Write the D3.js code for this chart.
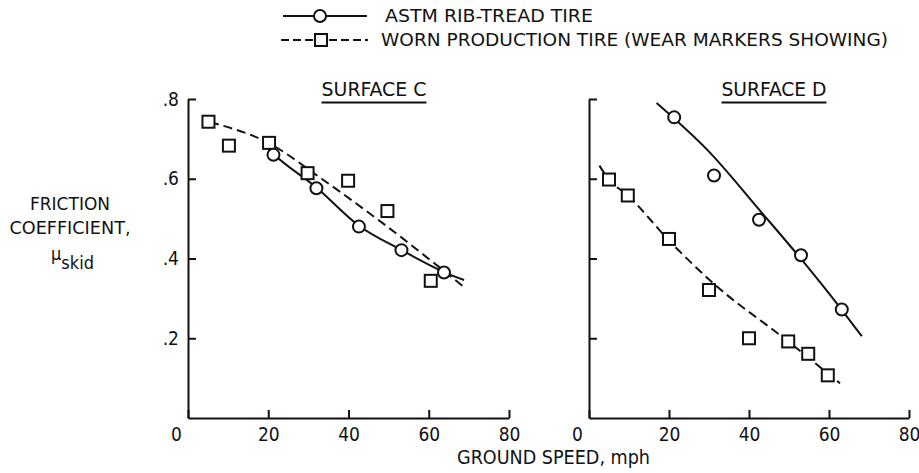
<!DOCTYPE html>
<html><head><meta charset="utf-8">
<script src="https://cdn.jsdelivr.net/npm/d3@7"></script>
<style>
body{margin:0;background:#fff;}
svg text{font-family:"Liberation Sans Narrow","DejaVu Sans Condensed","Liberation Sans",Arial,sans-serif;fill:#111;}
</style></head>
<body><svg id="c" width="919" height="473"></svg>
<script>
// ---- data ----
const speedTicks = [0, 20, 40, 60, 80];
const fricTicks = [0.2, 0.4, 0.6, 0.8];
const fricTickLabels = [".2", ".4", ".6", ".8"];
const seriesNames = ["ASTM RIB-TREAD TIRE", "WORN PRODUCTION TIRE (WEAR MARKERS SHOWING)"];
const panelTitles = ["SURFACE C", "SURFACE D"];
const yLabelLines = ["FRICTION", "COEFFICIENT,"];
const xLabel = "GROUND SPEED, mph";

// Surface C
const astmC_speed = [21.3, 32.0, 42.6, 53.2, 63.8];
const astmC_mu    = [0.660, 0.576, 0.480, 0.421, 0.365];
const wornC_speed = [5.1, 10.2, 20.2, 29.8, 39.9, 49.7, 60.5];
const wornC_mu    = [0.743, 0.683, 0.690, 0.614, 0.595, 0.519, 0.344];
const astmCfit_speed = [19.0, 21.3, 32.0, 42.6, 53.2, 63.8, 68.8];
const astmCfit_mu    = [0.685, 0.662, 0.578, 0.482, 0.421, 0.366, 0.346];
const wornCfit_speed = [5.5, 20.0, 33.3, 48.6, 68.6];
const wornCfit_mu    = [0.742, 0.690, 0.600, 0.488, 0.330];

// Surface D
const astmD_speed = [21.3, 31.25, 42.5, 53.0, 63.2];
const astmD_mu    = [0.754, 0.608, 0.497, 0.408, 0.272];
const wornD_speed = [5.0, 9.7, 20.0, 30.0, 40.0, 49.8, 54.8, 59.7];
const wornD_mu    = [0.598, 0.558, 0.449, 0.321, 0.200, 0.192, 0.161, 0.107];
const astmDfit_speed = [16.9, 30.0, 42.75, 52.75, 62.75, 68.2];
const astmDfit_mu    = [0.790, 0.668, 0.520, 0.402, 0.277, 0.205];
const wornDfit_speed = [2.6, 5.0, 9.7, 20.0, 30.7, 49.8, 62.75];
const wornDfit_mu    = [0.633, 0.598, 0.558, 0.445, 0.341, 0.192, 0.087];

const zip = (a, b) => a.map((v, i) => [v, b[i]]);
const panels = [
  {title: panelTitles[0], x0: 188, x1: 509, yLabels: true, titleX: 374, titleW: 105,
   astm: zip(astmC_speed, astmC_mu), worn: zip(wornC_speed, wornC_mu),
   astmFit: zip(astmCfit_speed, astmCfit_mu), wornFit: zip(wornCfit_speed, wornCfit_mu)},
  {title: panelTitles[1], x0: 589, x1: 909, yLabels: false, titleX: 774, titleW: 105,
   astm: zip(astmD_speed, astmD_mu), worn: zip(wornD_speed, wornD_mu),
   astmFit: zip(astmDfit_speed, astmDfit_mu), wornFit: zip(wornDfit_speed, wornDfit_mu)}
];

const svg = d3.select("#c");
const yTop = 99, yBot = 418;
const y = d3.scaleLinear().domain([0, 0.8]).range([yBot, yTop]);
const ink = "#111";
const dash = "9,5";
const sq = 12, cr = 6;

function drawCircle(g, cx, cy) {
  g.append("circle").attr("cx", cx).attr("cy", cy).attr("r", cr)
    .attr("fill", "#fff").attr("stroke", ink).attr("stroke-width", 2);
}
function drawSquare(g, cx, cy) {
  g.append("rect").attr("x", cx - sq / 2).attr("y", cy - sq / 2).attr("width", sq).attr("height", sq)
    .attr("fill", "#fff").attr("stroke", ink).attr("stroke-width", 2);
}

panels.forEach(p => {
  const x = d3.scaleLinear().domain([0, 80]).range([p.x0, p.x1]);
  const g = svg.append("g");

  // axes
  const xa = g.append("g").attr("transform", `translate(0,${yBot})`)
    .call(d3.axisBottom(x).tickValues(speedTicks).tickSize(-8).tickSizeOuter(0).tickPadding(10));
  const ya = g.append("g").attr("transform", `translate(${p.x0},0)`)
    .call(d3.axisLeft(y).tickValues(fricTicks).tickSize(-8).tickSizeOuter(0).tickPadding(9)
      .tickFormat((d, i) => fricTickLabels[i]));
  [xa, ya].forEach(a => {
    a.selectAll("path.domain").attr("stroke", ink).attr("stroke-width", 2);
    a.selectAll(".tick line").attr("stroke", ink).attr("stroke-width", 2);
    a.selectAll("text").attr("font-size", 19).attr("fill", ink)
      .style("font-family", '"Liberation Sans Narrow","DejaVu Sans Condensed","Liberation Sans",Arial,sans-serif');
  });
  xa.selectAll(".tick text").filter(d => d === 0).attr("dx", -12);
  if (!p.yLabels) ya.selectAll(".tick text").remove();

  // title
  g.append("text").attr("x", p.titleX).attr("y", 96).attr("text-anchor", "middle")
    .attr("font-size", 19).attr("textLength", p.titleW).attr("lengthAdjust", "spacingAndGlyphs")
    .text(p.title);
  g.append("line").attr("x1", p.titleX - p.titleW / 2).attr("x2", p.titleX + p.titleW / 2)
    .attr("y1", 102.5).attr("y2", 102.5).attr("stroke", ink).attr("stroke-width", 2);

  // fitted curves
  const line = d3.line().x(d => x(d[0])).y(d => y(d[1])).curve(d3.curveMonotoneX);
  g.append("path").attr("d", line(p.astmFit)).attr("fill", "none").attr("stroke", ink).attr("stroke-width", 2);
  g.append("path").attr("d", line(p.wornFit)).attr("fill", "none").attr("stroke", ink).attr("stroke-width", 2)
    .attr("stroke-dasharray", dash);

  // markers
  p.worn.forEach(d => drawSquare(g, x(d[0]), y(d[1])));
  p.astm.forEach(d => drawCircle(g, x(d[0]), y(d[1])));
});

// legend
const lg = svg.append("g");
lg.append("line").attr("x1", 283).attr("x2", 367).attr("y1", 16).attr("y2", 16)
  .attr("stroke", ink).attr("stroke-width", 2);
drawCircle(lg, 320, 16);
lg.append("text").attr("x", 385).attr("y", 22).attr("font-size", 18)
  .attr("textLength", 208).attr("lengthAdjust", "spacingAndGlyphs").text(seriesNames[0]);
lg.append("line").attr("x1", 281).attr("x2", 368).attr("y1", 40).attr("y2", 40)
  .attr("stroke", ink).attr("stroke-width", 2).attr("stroke-dasharray", "8,4");
drawSquare(lg, 321, 40);
lg.append("text").attr("x", 381).attr("y", 46).attr("font-size", 18)
  .attr("textLength", 507).attr("lengthAdjust", "spacingAndGlyphs").text(seriesNames[1]);

// y label
const yl = svg.append("g");
yl.append("text").attr("x", 70).attr("y", 210).attr("text-anchor", "middle").attr("font-size", 18)
  .attr("textLength", 80).attr("lengthAdjust", "spacingAndGlyphs").text(yLabelLines[0]);
yl.append("text").attr("x", 70).attr("y", 234).attr("text-anchor", "middle").attr("font-size", 18)
  .attr("textLength", 121).attr("lengthAdjust", "spacingAndGlyphs").text(yLabelLines[1]);
const mu = yl.append("text").attr("x", 51).attr("y", 260).attr("font-size", 18);
mu.append("tspan").text("\u03BC");
mu.append("tspan").attr("dy", 9).text("skid");

// x label
svg.append("text").attr("x", 457).attr("y", 464).attr("font-size", 19)
  .attr("textLength", 193).attr("lengthAdjust", "spacingAndGlyphs").text(xLabel);
</script></body></html>
